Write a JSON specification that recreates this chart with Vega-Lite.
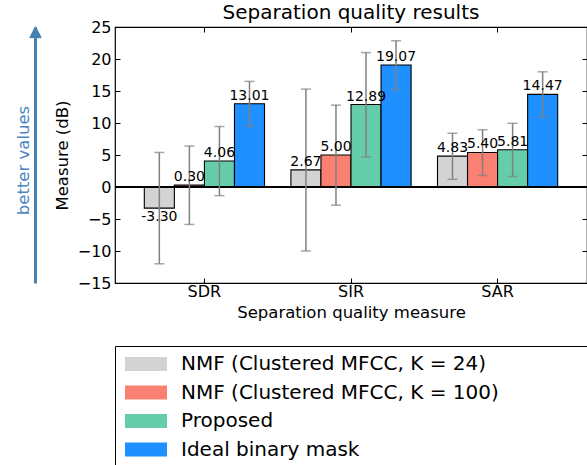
{
  "$schema": "https://vega.github.io/schema/vega-lite/v6.json",
  "autosize": "none",
  "padding": {"left": 115, "top": 27, "right": 0, "bottom": 182},
  "width": 472,
  "height": 256,
  "background": "white",
  "config": {
    "font": "DejaVu Sans",
    "view": {"stroke": "black", "strokeWidth": 1.2},
    "axis": {"labelFont": "DejaVu Sans", "titleFont": "DejaVu Sans", "labelColor": "black", "titleColor": "black", "titleFontWeight": "normal", "domain": false, "grid": false, "tickColor": "black"}
  },
  "title": {"text": "Separation quality results", "fontSize": 20, "fontWeight": "normal", "font": "DejaVu Sans", "offset": 4, "dy": 8, "anchor": "middle"},
  "data": {"values": [
    {"measure": "SDR", "method": "NMF (Clustered MFCC, K = 24)", "value": -3.30, "low": -12.0, "high": 5.4, "label": "-3.30"},
    {"measure": "SDR", "method": "NMF (Clustered MFCC, K = 100)", "value": 0.30, "low": -5.85, "high": 6.4, "label": "0.30"},
    {"measure": "SDR", "method": "Proposed", "value": 4.06, "low": -1.35, "high": 9.45, "label": "4.06"},
    {"measure": "SDR", "method": "Ideal binary mask", "value": 13.01, "low": 9.5, "high": 16.5, "label": "13.01"},
    {"measure": "SIR", "method": "NMF (Clustered MFCC, K = 24)", "value": 2.67, "low": -10.0, "high": 15.3, "label": "2.67"},
    {"measure": "SIR", "method": "NMF (Clustered MFCC, K = 100)", "value": 5.00, "low": -2.85, "high": 12.8, "label": "5.00"},
    {"measure": "SIR", "method": "Proposed", "value": 12.89, "low": 4.7, "high": 21.0, "label": "12.89"},
    {"measure": "SIR", "method": "Ideal binary mask", "value": 19.07, "low": 15.2, "high": 22.85, "label": "19.07"},
    {"measure": "SAR", "method": "NMF (Clustered MFCC, K = 24)", "value": 4.83, "low": 1.2, "high": 8.4, "label": "4.83"},
    {"measure": "SAR", "method": "NMF (Clustered MFCC, K = 100)", "value": 5.40, "low": 1.8, "high": 8.95, "label": "5.40"},
    {"measure": "SAR", "method": "Proposed", "value": 5.81, "low": 1.65, "high": 9.95, "label": "5.81"},
    {"measure": "SAR", "method": "Ideal binary mask", "value": 14.47, "low": 10.95, "high": 18.0, "label": "14.47"}
  ]},
  "encoding": {
    "x": {"field": "measure", "type": "nominal", "sort": ["SDR", "SIR", "SAR"],
      "scale": {"paddingInner": 0.18, "paddingOuter": 0.2}},
    "xOffset": {"field": "method", "type": "nominal",
      "sort": ["NMF (Clustered MFCC, K = 24)", "NMF (Clustered MFCC, K = 100)", "Proposed", "Ideal binary mask"],
      "scale": {"paddingInner": 0, "paddingOuter": 0}}
  },
  "layer": [
    {
      "mark": {"type": "bar", "stroke": "black", "strokeWidth": 1.1},
      "encoding": {
        "x": {"field": "measure", "type": "nominal", "sort": ["SDR", "SIR", "SAR"],
          "axis": {"orient": "bottom", "title": "Separation quality measure", "labelAngle": 0, "labelFontSize": 16, "titleFontSize": 16.5, "tickSize": -5, "labelPadding": 5, "titlePadding": 5}},
        "y": {"field": "value", "type": "quantitative", "scale": {"domain": [-15, 25], "nice": false, "zero": false},
          "axis": {"orient": "left", "title": "Measure (dB)", "values": [-15, -10, -5, 0, 5, 10, 15, 20, 25], "labelFontSize": 16, "titleFontSize": 16.5, "tickSize": -5, "labelPadding": 9, "titlePadding": 7}},
        "color": {"field": "method", "type": "nominal",
          "sort": ["NMF (Clustered MFCC, K = 24)", "NMF (Clustered MFCC, K = 100)", "Proposed", "Ideal binary mask"],
          "scale": {"domain": ["NMF (Clustered MFCC, K = 24)", "NMF (Clustered MFCC, K = 100)", "Proposed", "Ideal binary mask"],
            "range": ["#d3d3d3", "#fa8072", "#66cdaa", "#1e90ff"]},
          "legend": {"orient": "none", "legendX": 0, "legendY": 319, "title": " ", "titleOrient": "right", "titlePadding": 95,
            "symbolType": "M-3,-1H3V1H-3Z", "symbolSize": 196, "symbolStrokeWidth": 0, "symbolOpacity": 1, "symbolOffset": 13,
            "labelFontSize": 20, "labelFont": "DejaVu Sans", "labelColor": "black", "labelOffset": 25, "labelLimit": 400,
            "rowPadding": 8.5, "padding": 8, "strokeColor": "black", "fillColor": "white", "cornerRadius": 0}}
      }
    },
    {
      "mark": {"type": "rule", "color": "black", "strokeWidth": 1.1},
      "encoding": {"x": null, "xOffset": null, "y": {"datum": 0, "type": "quantitative", "axis": null}}
    },
    {
      "mark": {"type": "rule", "color": "#808080", "strokeWidth": 1.5},
      "encoding": {
        "x": {"field": "measure", "type": "nominal", "sort": ["SDR", "SIR", "SAR"], "axis": null},
        "y": {"field": "low", "type": "quantitative", "axis": null},
        "y2": {"field": "high"}
      }
    },
    {
      "mark": {"type": "tick", "color": "#808080", "orient": "horizontal", "size": 10, "thickness": 1.5},
      "encoding": {
        "x": {"field": "measure", "type": "nominal", "sort": ["SDR", "SIR", "SAR"], "axis": null},
        "y": {"field": "low", "type": "quantitative", "axis": null}
      }
    },
    {
      "mark": {"type": "tick", "color": "#808080", "orient": "horizontal", "size": 10, "thickness": 1.5},
      "encoding": {
        "x": {"field": "measure", "type": "nominal", "sort": ["SDR", "SIR", "SAR"], "axis": null},
        "y": {"field": "high", "type": "quantitative", "axis": null}
      }
    },
    {
      "transform": [{"filter": "datum.value >= 0"}],
      "mark": {"type": "text", "baseline": "bottom", "dy": -1, "fontSize": 14, "color": "black"},
      "encoding": {
        "x": {"field": "measure", "type": "nominal", "sort": ["SDR", "SIR", "SAR"], "axis": null},
        "y": {"field": "value", "type": "quantitative", "axis": null},
        "text": {"field": "label"}
      }
    },
    {
      "transform": [{"filter": "datum.value < 0"}],
      "mark": {"type": "text", "baseline": "top", "dy": 2, "fontSize": 14, "color": "black"},
      "encoding": {
        "x": {"field": "measure", "type": "nominal", "sort": ["SDR", "SIR", "SAR"], "axis": null},
        "y": {"field": "value", "type": "quantitative", "axis": null},
        "text": {"field": "label"}
      }
    },
    {
      "mark": {"type": "point", "opacity": 0},
      "encoding": {
        "x": {"field": "measure", "type": "nominal", "sort": ["SDR", "SIR", "SAR"],
          "axis": {"orient": "top", "labels": false, "title": null, "tickSize": -5}},
        "xOffset": null,
        "y": {"field": "value", "type": "quantitative",
          "axis": {"orient": "right", "labels": false, "title": null, "tickSize": -5, "values": [-15, -10, -5, 0, 5, 10, 15, 20, 25]}}
      }
    },
    {
      "mark": {"type": "point", "opacity": 0},
      "encoding": {
        "x": {"field": "measure", "type": "nominal", "sort": ["SDR", "SIR", "SAR"], "axis": null},
        "xOffset": null,
        "y": {"field": "value", "type": "quantitative",
          "axis": {"orient": "left", "offset": 80, "labels": false, "ticks": false, "domain": true, "domainColor": "#4682b4", "domainWidth": 3,
            "title": "better values", "titleColor": "#4a86c0", "titleFont": "DejaVu Sans", "titleFontSize": 16.5, "titleFontWeight": "normal", "titlePadding": 4, "titleY": 133}}
      }
    },
    {
      "mark": {"type": "point", "opacity": 0},
      "encoding": {
        "x": {"field": "measure", "type": "nominal", "sort": ["SDR", "SIR", "SAR"], "axis": null},
        "xOffset": null,
        "y": {"field": "value", "type": "quantitative",
          "axis": {"orient": "left", "offset": 80, "labels": false, "domain": false, "title": null, "tickColor": "#4682b4", "tickWidth": 1.3,
            "values": [23.45, 23.6, 23.75, 23.9, 24.05, 24.2, 24.35, 24.5, 24.65, 24.8, 24.95],
            "tickSize": {"condition": [
              {"test": "datum.value < 23.5", "value": 6},
              {"test": "datum.value < 23.65", "value": 5.5},
              {"test": "datum.value < 23.8", "value": 5},
              {"test": "datum.value < 23.95", "value": 4.5},
              {"test": "datum.value < 24.1", "value": 4},
              {"test": "datum.value < 24.25", "value": 3.5},
              {"test": "datum.value < 24.4", "value": 3},
              {"test": "datum.value < 24.55", "value": 2.5},
              {"test": "datum.value < 24.7", "value": 2},
              {"test": "datum.value < 24.85", "value": 1.5}
            ], "value": 1}}}
      }
    },
    {
      "mark": {"type": "point", "opacity": 0},
      "encoding": {
        "x": {"field": "measure", "type": "nominal", "sort": ["SDR", "SIR", "SAR"], "axis": null},
        "xOffset": null,
        "y": {"field": "value", "type": "quantitative",
          "axis": {"orient": "left", "offset": 80, "labels": false, "domain": false, "title": null, "tickColor": "#4682b4", "tickWidth": 1.3,
            "values": [23.45, 23.6, 23.75, 23.9, 24.05, 24.2, 24.35, 24.5, 24.65, 24.8, 24.95],
            "tickSize": {"condition": [
              {"test": "datum.value < 23.5", "value": -6},
              {"test": "datum.value < 23.65", "value": -5.5},
              {"test": "datum.value < 23.8", "value": -5},
              {"test": "datum.value < 23.95", "value": -4.5},
              {"test": "datum.value < 24.1", "value": -4},
              {"test": "datum.value < 24.25", "value": -3.5},
              {"test": "datum.value < 24.4", "value": -3},
              {"test": "datum.value < 24.55", "value": -2.5},
              {"test": "datum.value < 24.7", "value": -2},
              {"test": "datum.value < 24.85", "value": -1.5}
            ], "value": -1}}}
      }
    }
  ],
  "resolve": {"axis": {"x": "independent", "y": "independent"}}
}
